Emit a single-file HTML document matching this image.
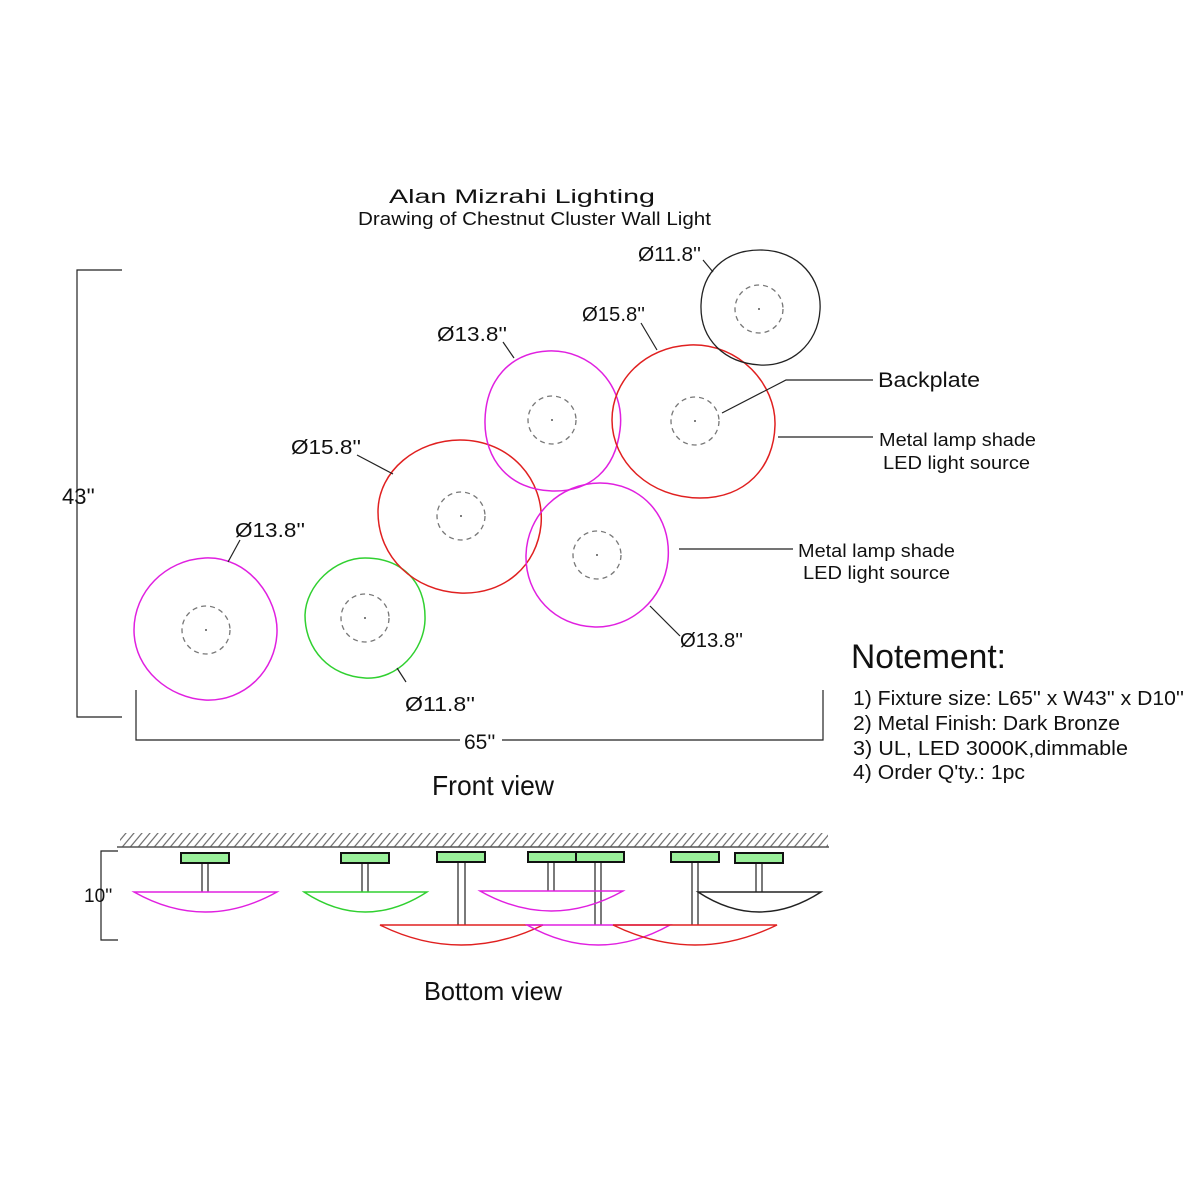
<!DOCTYPE html>
<html><head><meta charset="utf-8"><style>
html,body{margin:0;padding:0;background:#fff;width:1200px;height:1200px;overflow:hidden}
text{font-family:"Liberation Sans",sans-serif;fill:#111}
</style></head><body>
<svg width="1200" height="1200" viewBox="0 0 1200 1200" xmlns="http://www.w3.org/2000/svg">
<defs>
<pattern id="h" width="8" height="14" patternUnits="userSpaceOnUse" patternTransform="skewX(-40)">
<line x1="1" y1="0" x2="1" y2="14" stroke="#666" stroke-width="1.5"/>
</pattern>
</defs>
<text x="389" y="203" font-size="19" textLength="266" lengthAdjust="spacingAndGlyphs">Alan Mizrahi Lighting</text>
<text x="358" y="225" font-size="18" textLength="353" lengthAdjust="spacingAndGlyphs">Drawing of Chestnut Cluster Wall Light</text>

<g fill="none" stroke-width="1.5">
<path d="M205,558 C250,556 278,600 277,632 C276,670 245,702 205,700 C170,698 134,670 134,630 C134,592 165,560 205,558Z" stroke="#e020e0"/>
<path d="M365,558 C400,558 426,580 425,620 C424,650 398,680 365,678 C330,676 305,650 305,615 C306,585 335,558 365,558Z" stroke="#30d030"/>
<path d="M460,440 C510,440 545,480 541,525 C537,565 505,595 460,593 C415,591 378,558 378,512 C378,470 418,440 460,440Z" stroke="#e02020"/>
<path d="M548,351 C590,349 626,385 620,430 C615,470 590,492 552,491 C510,490 484,460 485,420 C486,380 510,353 548,351Z" stroke="#e020e0"/>
<path d="M600,483 C640,483 672,515 668,560 C664,600 630,628 595,627 C555,626 525,595 526,555 C527,515 560,483 600,483Z" stroke="#e020e0"/>
<path d="M690,345 C740,343 776,385 775,425 C774,468 745,498 700,498 C650,498 612,462 612,420 C612,380 645,347 690,345Z" stroke="#e02020"/>
<path d="M760,250 C800,250 822,280 820,310 C818,345 790,367 760,365 C725,363 700,340 701,305 C702,272 725,250 760,250Z" stroke="#222" stroke-width="1.3"/>
</g>
<g fill="none" stroke="#777" stroke-width="1.3" stroke-dasharray="5,4">
<circle cx="206" cy="630" r="24"/><circle cx="365" cy="618" r="24"/><circle cx="461" cy="516" r="24"/>
<circle cx="552" cy="420" r="24"/><circle cx="597" cy="555" r="24"/><circle cx="695" cy="421" r="24"/><circle cx="759" cy="309" r="24"/>
</g>
<g fill="#555"><circle cx="206" cy="630" r="1"/><circle cx="365" cy="618" r="1"/><circle cx="461" cy="516" r="1"/><circle cx="552" cy="420" r="1"/><circle cx="597" cy="555" r="1"/><circle cx="695" cy="421" r="1"/><circle cx="759" cy="309" r="1"/></g>

<g stroke="#222" stroke-width="1.2" fill="none">
<line x1="703" y1="260" x2="713" y2="272"/>
<line x1="641" y1="323" x2="657" y2="350"/>
<line x1="503" y1="342" x2="514" y2="358"/>
<line x1="357" y1="455" x2="393" y2="474"/>
<line x1="240" y1="540" x2="228" y2="562"/>
<line x1="397" y1="668" x2="406" y2="682"/>
<line x1="650" y1="606" x2="680" y2="636"/>
<polyline points="722,413 786,380 873,380"/>
<line x1="778" y1="437" x2="873" y2="437"/>
<line x1="679" y1="549" x2="793" y2="549"/>
<polyline points="122,270 77,270 77,717 122,717"/>
<polyline points="136,690 136,740 823,740 823,690"/>
</g>
<g font-size="20">
<text x="638" y="261" textLength="63" lengthAdjust="spacingAndGlyphs">Ø11.8''</text>
<text x="582" y="321" textLength="63" lengthAdjust="spacingAndGlyphs">Ø15.8''</text>
<text x="437" y="341" textLength="70" lengthAdjust="spacingAndGlyphs">Ø13.8''</text>
<text x="291" y="454" textLength="70" lengthAdjust="spacingAndGlyphs">Ø15.8''</text>
<text x="235" y="537" textLength="70" lengthAdjust="spacingAndGlyphs">Ø13.8''</text>
<text x="405" y="711" textLength="70" lengthAdjust="spacingAndGlyphs">Ø11.8''</text>
<text x="680" y="647" textLength="63" lengthAdjust="spacingAndGlyphs">Ø13.8''</text>
</g>
<text x="878" y="387" font-size="21" textLength="102" lengthAdjust="spacingAndGlyphs">Backplate</text>
<text x="879" y="446" font-size="18" textLength="157" lengthAdjust="spacingAndGlyphs">Metal lamp shade</text>
<text x="883" y="469" font-size="18" textLength="147" lengthAdjust="spacingAndGlyphs">LED light source</text>
<text x="798" y="557" font-size="18" textLength="157" lengthAdjust="spacingAndGlyphs">Metal lamp shade</text>
<text x="803" y="579" font-size="18" textLength="147" lengthAdjust="spacingAndGlyphs">LED light source</text>
<text x="62" y="504" font-size="22">43''</text>
<rect x="460" y="730" width="42" height="20" fill="#fff"/>
<text x="464" y="749" font-size="21">65''</text>
<text x="432" y="795" font-size="28" textLength="122" lengthAdjust="spacingAndGlyphs">Front view</text>
<text x="851" y="668" font-size="34" textLength="155" lengthAdjust="spacingAndGlyphs">Notement:</text>
<g font-size="20">
<text x="853" y="705" textLength="331" lengthAdjust="spacingAndGlyphs">1) Fixture size: L65'' x W43'' x D10''</text>
<text x="853" y="730" textLength="267" lengthAdjust="spacingAndGlyphs">2) Metal Finish: Dark Bronze</text>
<text x="853" y="755" textLength="275" lengthAdjust="spacingAndGlyphs">3) UL,  LED 3000K,dimmable</text>
<text x="853" y="779" textLength="172" lengthAdjust="spacingAndGlyphs">4) Order Q'ty.: 1pc</text>
</g>

<rect x="120" y="833" width="708" height="14" fill="url(#h)"/>
<line x1="117" y1="847" x2="829" y2="847" stroke="#555" stroke-width="1.5"/>
<g stroke="#222" stroke-width="1.2" fill="none">
<line x1="202" y1="863" x2="202" y2="892"/><line x1="208" y1="863" x2="208" y2="892"/>
<line x1="362" y1="863" x2="362" y2="892"/><line x1="368" y1="863" x2="368" y2="892"/>
<line x1="458" y1="863" x2="458" y2="925"/><line x1="465" y1="863" x2="465" y2="925"/>
<line x1="548" y1="863" x2="548" y2="891"/><line x1="554" y1="863" x2="554" y2="891"/>
<line x1="595" y1="863" x2="595" y2="925"/><line x1="601" y1="863" x2="601" y2="925"/>
<line x1="692" y1="863" x2="692" y2="925"/><line x1="698" y1="863" x2="698" y2="925"/>
<line x1="756" y1="863" x2="756" y2="892"/><line x1="762" y1="863" x2="762" y2="892"/>
<polyline points="118,851 101,851 101,940 118,940"/>
</g>
<g stroke="#111" stroke-width="2" fill="#9af09a">
<rect x="181" y="853" width="48" height="10"/>
<rect x="341" y="853" width="48" height="10"/>
<rect x="437" y="852" width="48" height="10"/>
<rect x="528" y="852" width="48" height="10"/>
<rect x="576" y="852" width="48" height="10"/>
<rect x="671" y="852" width="48" height="10"/>
<rect x="735" y="853" width="48" height="10"/>
</g>
<g fill="none" stroke-width="1.4">
<path d="M134,892 L277,892 Q205,932 134,892Z" stroke="#e020e0"/>
<path d="M304,892 L427,892 Q365,932 304,892Z" stroke="#30d030"/>
<path d="M480,891 L623,891 Q551,931 480,891Z" stroke="#e020e0"/>
<path d="M698,892 L821,892 Q759,932 698,892Z" stroke="#222"/>
<path d="M380,925 L543,925 Q461,965 380,925Z" stroke="#e02020"/>
<path d="M527,925 L670,925 Q598,965 527,925Z" stroke="#e020e0"/>
<path d="M613,925 L777,925 Q695,965 613,925Z" stroke="#e02020"/>
</g>
<text x="84" y="902" font-size="19">10''</text>
<text x="424" y="1000" font-size="26" textLength="138" lengthAdjust="spacingAndGlyphs">Bottom view</text>
</svg>
</body></html>
